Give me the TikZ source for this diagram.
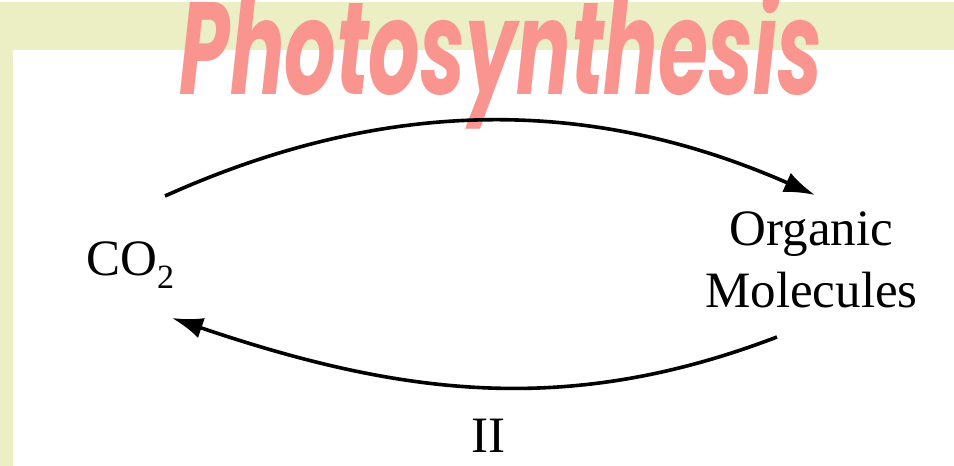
\documentclass[tikz,border=0pt]{standalone}
\usepackage{fontspec}
\setmainfont{Liberation Serif}
\newfontfamily\titlefont{Poppins}
\usetikzlibrary{arrows.meta}
\definecolor{bandcol}{RGB}{236,239,196}
\definecolor{titlecol}{RGB}{249,149,142}
\begin{document}
\begin{tikzpicture}[x=1pt,y=-1pt,
  conn/.style={line width=3.6pt,-{Latex[length=31pt,width=21pt]}},
  lbl/.style={font=\fontsize{51}{62}\selectfont,inner sep=0pt}]
\useasboundingbox (0,0) rectangle (954,466);
\fill[white] (0,0) rectangle (954,466);
\fill[bandcol] (0,2) rectangle (954,50);
\fill[bandcol] (0,2) rectangle (13,466);
\node[inner sep=0pt,text=titlecol] (title) at (501,59.5)
  {\resizebox{642pt}{105pt}{\titlefont\bfseries\itshape Photosynthesis}};
\node[lbl,anchor=base west] (co2) at (86,275)
  {CO\raisebox{-13pt}{\fontsize{34}{34}\selectfont 2}};
\node[lbl,anchor=base] (om) at (811.5,245)
  {\begin{tabular}[t]{@{}c@{}}Organic\\Molecules\end{tabular}};
\node[lbl,anchor=base] (ii) at (488,452) {II};
\coordinate (t1s) at (165,196);
\coordinate (t1e) at (815,195);
\coordinate (b1s) at (777,337);
\coordinate (b1e) at (172,318);
\draw[conn] (t1s) .. controls (385,97) and (590,96) .. (t1e);
\draw[conn] (b1s) .. controls (570,416) and (405,397) .. (b1e);
\end{tikzpicture}
\end{document}
